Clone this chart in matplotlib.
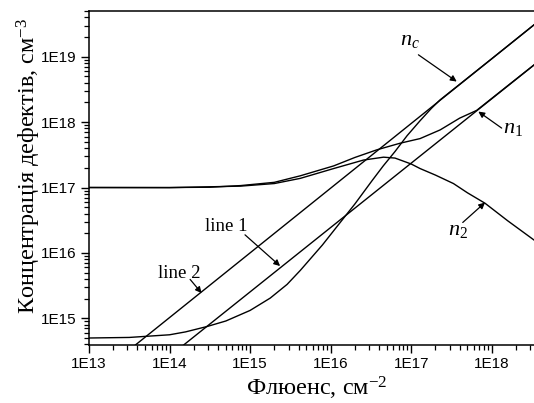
import matplotlib
matplotlib.use("Agg")
import matplotlib.pyplot as plt
from matplotlib.ticker import LogLocator, NullFormatter, FixedLocator

plt.rcParams['mathtext.fontset'] = 'custom'
plt.rcParams['mathtext.rm'] = 'Liberation Serif'
plt.rcParams['mathtext.it'] = 'Liberation Serif:italic'

# ---- data ----
nc_x = [1e13, 3.16e13, 1e14, 1.58e14, 2.93e14, 5.0e14, 1e15, 1.78e15, 2.88e15, 4.2e15,
        7.9e15, 1.45e16, 2.0e16, 3.25e16, 4.5e16, 6.3e16, 8.9e16, 1.29e17, 1.78e17,
        2.29e17, 1e18, 4.6e18]
nc_y = [5.0e14, 5.1e14, 5.6e14, 6.2e14, 7.5e14, 9.1e14, 1.32e15, 2.04e15, 3.3e15, 5.4e15,
        1.32e16, 3.4e16, 5.6e16, 1.26e17, 2.14e17, 3.55e17, 6.2e17, 1.05e18, 1.62e18,
        2.19e18, 9.3e18, 4.2e19]

n1_x = [1e13, 1e14, 3.16e14, 7.6e14, 2.0e15, 4.2e15, 1.09e16, 2.0e16, 3.75e16,
        7.3e16, 1.29e17, 2.29e17, 4.0e17, 6.5e17, 1.58e18, 4.6e18]
n1_y = [1e17, 1e17, 1.01e17, 1.07e17, 1.2e17, 1.51e17, 2.14e17, 2.88e17, 3.77e17,
        4.76e17, 5.6e17, 7.6e17, 1.15e18, 1.51e18, 3.6e18, 1.02e19]

n2_x = [1e13, 1e14, 7.6e14, 2.0e15, 4.2e15, 1.09e16, 2.56e16, 4.54e16, 6.3e16,
        1e17, 1.29e17, 2.0e17, 3.35e17, 5.0e17, 8.26e17, 1.58e18, 3.34e18, 4.6e18]
n2_y = [1e17, 0.995e17, 1.05e17, 1.15e17, 1.38e17, 1.95e17, 2.63e17, 2.91e17, 2.82e17,
        2.29e17, 1.95e17, 1.55e17, 1.15e17, 8.3e16, 5.75e16, 3.1e16, 1.58e16, 1.17e16]

line1_x = [1.26e14, 4.6e18]
line1_y = [3.3e14, 1.02e19]
line2_x = [3.0e13, 4.6e18]
line2_y = [3.12e14, 4.2e19]

xticks = [1e13, 1e14, 1e15, 1e16, 1e17, 1e18]
xtick_labels = ['1E13', '1E14', '1E15', '1E16', '1E17', '1E18']
yticks = [1e15, 1e16, 1e17, 1e18, 1e19]
ytick_labels = ['1E15', '1E16', '1E17', '1E18', '1E19']

W, H = 534, 403
fig = plt.figure(figsize=(W / 100, H / 100), dpi=100)
ax_l, ax_r, ax_t, ax_b = 89, 545, 11, 345
ax = fig.add_axes([ax_l / W, 1 - ax_b / H, (ax_r - ax_l) / W, (ax_b - ax_t) / H])
ax.set_xscale('log')
ax.set_yscale('log')
ax.set_xlim(1e13, 10 ** (13 + (ax_r - ax_l) / 80.54))
ax.set_ylim(10 ** 14.592, 10 ** 19.699)

lw = 1.0
for xs, ys in [(nc_x, nc_y), (n1_x, n1_y), (n2_x, n2_y), (line1_x, line1_y), (line2_x, line2_y)]:
    ax.plot(xs, ys, color='black', lw=lw, solid_joinstyle='round')

ax.xaxis.set_major_locator(FixedLocator(xticks))
ax.set_xticklabels(xtick_labels)
ax.yaxis.set_major_locator(FixedLocator(yticks))
ax.set_yticklabels(ytick_labels)
ax.xaxis.set_minor_locator(LogLocator(base=10, subs=range(2, 10), numticks=20))
ax.yaxis.set_minor_locator(LogLocator(base=10, subs=range(2, 10), numticks=20))
ax.xaxis.set_minor_formatter(NullFormatter())
ax.yaxis.set_minor_formatter(NullFormatter())

for lab in ax.get_xticklabels() + ax.get_yticklabels():
    lab.set_fontfamily('Liberation Sans')
    lab.set_fontsize(11)
ax.tick_params(which='major', direction='out', length=6, width=1.0, pad=3)
ax.tick_params(which='minor', direction='out', length=3.5, width=0.9)
ax.tick_params(top=False, right=False, which='both')
for s in ax.spines.values():
    s.set_linewidth(1.1)

ax.set_xlabel('Флюенс, см$^{-2}$', fontfamily='Liberation Serif', fontsize=17.5)
ax.set_ylabel('Концентрація дефектів, см$^{-3}$', fontfamily='Liberation Serif', fontsize=17.5)
ax.xaxis.set_label_coords(0.5, -0.09)
ax.yaxis.set_label_coords(-0.101, 0.535)

arrowprops = dict(arrowstyle='-|>', color='black', lw=0.9, mutation_scale=9, shrinkA=0, shrinkB=0)
ax.annotate('', xy=(3.68e17, 4.17e18), xytext=(1.23e17, 1.07e19), arrowprops=arrowprops)
ax.text(7.3e16, 1.52e19, '$n_c$', fontsize=16, ha='left', va='baseline')
ax.annotate('', xy=(6.82e17, 1.45e18), xytext=(1.33e18, 8.1e17), arrowprops=arrowprops)
ax.text(1.4e18, 6.86e17, '$n_1$', fontsize=16, ha='left', va='baseline')
ax.annotate('', xy=(8.26e17, 5.89e16), xytext=(4.37e17, 2.92e16), arrowprops=arrowprops)
ax.text(2.86e17, 1.89e16, '$n_2$', fontsize=16, ha='left', va='baseline')
ax.annotate('', xy=(2.36e15, 6.3e15), xytext=(8.65e14, 1.89e16), arrowprops=arrowprops)
ax.text(2.75e14, 2.18e16, 'line 1', fontfamily='Liberation Serif', fontsize=13.5, ha='left', va='baseline')
ax.annotate('', xy=(2.5e14, 2.43e15), xytext=(1.8e14, 3.94e15), arrowprops=arrowprops)
ax.text(7.2e13, 4.16e15, 'line 2', fontfamily='Liberation Serif', fontsize=13.5, ha='left', va='baseline')

fig.savefig('out.png', dpi=100)
